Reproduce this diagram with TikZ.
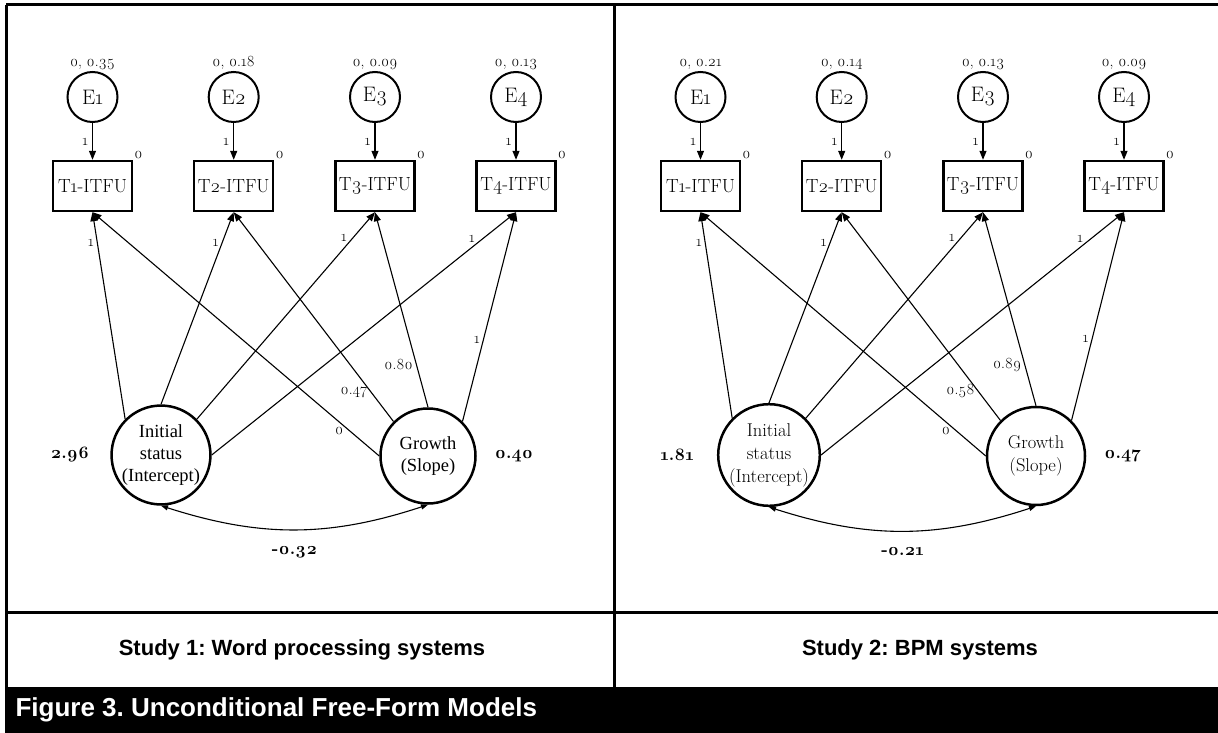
\documentclass[tikz,border=0pt]{standalone}
\usepackage{fontspec}
\setmainfont{Latin Modern Roman}[Numbers=OldStyle]
\newfontfamily\arialfont{Liberation Sans}
\newfontfamily\timesfont{Liberation Serif}
\usetikzlibrary{arrows.meta, positioning}
\frenchspacing

\tikzset{
  errnode/.style={circle, draw, line width=2pt, minimum size=50pt, inner sep=0pt, font=\fontsize{21}{24}\selectfont},
  obsbox/.style={rectangle, draw, line width=2.4pt, minimum width=79pt, minimum height=50pt, inner sep=0pt, font=\fontsize{19}{22}\selectfont},
  latent/.style={circle, draw, line width=2.5pt, minimum size=97pt, inner sep=0pt, align=center},
  regline/.style={line width=1.1pt, -{Triangle[length=9pt,width=7pt]}},
  covline/.style={line width=1.1pt, {Triangle[length=7pt,width=5pt]}-{Triangle[length=7pt,width=5pt]}},
  lab/.style={font=\fontsize{15.5}{17}\selectfont, inner sep=1pt},
  est/.style={font=\bfseries\fontsize{17.5}{19}\selectfont, inner sep=1pt},
  frame/.style={line width=3pt},
  title/.style={font=\arialfont\bfseries\fontsize{22}{26}\selectfont}
}

\begin{document}
\begin{tikzpicture}[x=1pt, y=-1pt]
  \useasboundingbox (0,0) rectangle (1218,733);

  % frame and captions
  \draw[frame] (6,5) -- (1218,5);
  \draw[frame] (6,5) -- (6,687);
  \draw[frame] (614,5) -- (614,687);
  \draw[frame] (6,612) -- (1218,612);
  \fill (5,687) rectangle (1218,733);
  \node[title] at (302,650) {Study 1: Word processing systems};
  \node[title] at (920,650) {Study 2: BPM systems};
  \node[anchor=west, text=white, font=\arialfont\bfseries\fontsize{26}{30}\selectfont] at (12,710) {Figure 3. Unconditional Free-Form Models};

  % study 1
  \foreach \i/\x/\v in {1/92.5/0.35, 2/233.7/0.18, 3/375/0.09, 4/516/0.13} {
    \node[errnode, label={[lab]above:0, \v}] (le\i) at (\x,97) {E\i};
    \node[obsbox] (lt\i) at (\x,186) {T\i-ITFU};
    \draw[regline] (le\i) -- node[lab, left=3pt] {1} (lt\i);
    \node[lab, above right] at (lt\i.north east) {0};
  }
  \node[latent, font=\timesfont\fontsize{18.5}{22}\selectfont] (li) at (161,455) {Initial\\status\\(Intercept)};
  \node[latent, minimum size=95pt, font=\timesfont\fontsize{18.5}{22}\selectfont] (lg) at (428,456) {Growth\\(Slope)};

  \draw[regline] (li.135) -- node[lab, pos=.85, left=2pt] {1} (lt1.south);
  \draw[regline] (li.90) -- node[lab, pos=.84, left=2pt] {1} (lt2.south);
  \draw[regline] (li.45) -- node[lab, pos=.85, above left] {1} (lt3.south);
  \draw[regline] (li.0) -- node[lab, pos=.87, above left] {1} (lt4.south);
  \draw[regline] (lg.180) -- node[lab, pos=.14, below=4pt] {0} (lt1.south);
  \draw[regline] (lg.135) -- node[lab, pos=.14, left=2pt] {0.47} (lt2.south);
  \draw[regline] (lg.90) -- node[lab, pos=.22, left=2pt] {0.80} (lt3.south);
  \draw[regline] (lg.45) -- node[lab, pos=.39, left=2pt] {1} (lt4.south);

  \node[est, left=20pt of li] {2.96};
  \node[est, right=17pt of lg] {0.40};
  \draw[covline] (li.south) to[bend right=18] node[est, below=15pt] {-0.32} (lg.south);

  % study 2
  \foreach \i/\x/\v in {1/700.5/0.21, 2/841.7/0.14, 3/983/0.13, 4/1124/0.09} {
    \node[errnode, label={[lab]above:0, \v}] (re\i) at (\x,97) {E\i};
    \node[obsbox] (rt\i) at (\x,186) {T\i-ITFU};
    \draw[regline] (re\i) -- node[lab, left=3pt] {1} (rt\i);
    \node[lab, above right] at (rt\i.north east) {0};
  }
  \node[latent, minimum size=98pt, font=\fontsize{18.5}{23}\selectfont] (ri) at (769,455) {Initial\\status\\(Intercept)};
  \node[latent, minimum size=98pt, font=\fontsize{18.5}{23}\selectfont] (rg) at (1036,456) {Growth\\(Slope)};

  \draw[regline] (ri.135) -- node[lab, pos=.85, left=2pt] {1} (rt1.south);
  \draw[regline] (ri.90) -- node[lab, pos=.84, left=2pt] {1} (rt2.south);
  \draw[regline] (ri.45) -- node[lab, pos=.85, above left] {1} (rt3.south);
  \draw[regline] (ri.0) -- node[lab, pos=.87, above left] {1} (rt4.south);
  \draw[regline] (rg.180) -- node[lab, pos=.14, below=4pt] {0} (rt1.south);
  \draw[regline] (rg.135) -- node[lab, pos=.14, left=2pt] {0.58} (rt2.south);
  \draw[regline] (rg.90) -- node[lab, pos=.21, left=2pt] {0.89} (rt3.south);
  \draw[regline] (rg.45) -- node[lab, pos=.39, left=2pt] {1} (rt4.south);

  \node[est, left=22pt of ri] {1.81};
  \node[est, right=17pt of rg] {0.47};
  \draw[covline] (ri.south) to[bend right=18] node[est, below=15pt] {-0.21} (rg.south);
\end{tikzpicture}
\end{document}
